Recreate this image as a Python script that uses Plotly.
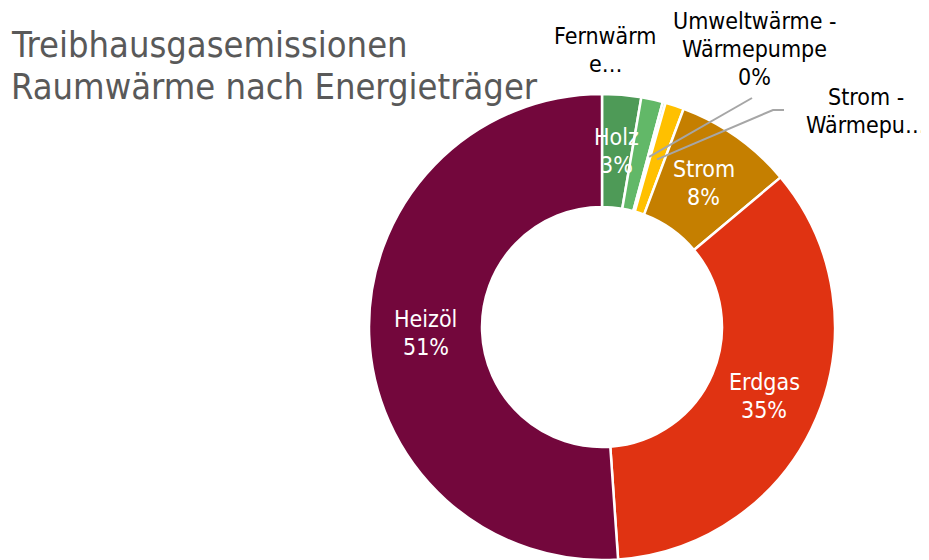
import math
import plotly.graph_objects as go

# ---------------- data ----------------
categories = ["Holz", "Fernwärme", "Umweltwärme - Wärmepumpe", "Strom - Wärmepumpe",
              "Strom", "Erdgas", "Heizöl"]
shares = [2.7, 1.5, 0.2, 1.3, 8.2, 35.0, 51.1]
label_lines = [["Holz"], ["Fernwärm", "e…"], ["Umweltwärme -", "Wärmepumpe"],
               ["Strom -", "Wärmepu…"], ["Strom"], ["Erdgas"], ["Heizöl"]]
show_pct = [True, False, True, False, True, True, True]
inside = [True, False, False, False, True, True, True]
colors = ["#4E9A57", "#62B868", "#A8D8A0", "#FFC000", "#C57F00", "#E03312", "#73073C"]
title_lines = ["Treibhausgasemissionen", "Raumwärme nach Energieträger"]

# ---------------- layout constants ----------------
OFF = 8                      # page body margin in the browser
W, H = 929 - OFF, 560 - OFF
CX, CY, R = 602, 327, 233    # in window pixels
HOLE = 0.515
FONT = "DejaVu Sans Condensed, DejaVu Sans, sans-serif"
LABEL_SIZE = 23
PITCH = 28
outside_pos = {1: (605, 36), 2: (754, 21), 3: (866, 97)}
leader_end = {2: [(752, 98)], 3: [(773, 110), (784, 110)]}


def px(x):
    return (x - OFF) / W


def py(y):
    return 1 - (y - OFF) / H


total = sum(shares)
cum = 0
mid_angles = []
for v in shares:
    mid_angles.append(360 * (cum + v / 2) / total)
    cum += v
r_mid = R * (1 + HOLE) / 2


def polar(angle, r):
    a = math.radians(angle)
    return CX + r * math.sin(a), CY - r * math.cos(a)


fig = go.Figure(go.Pie(
    labels=categories, values=shares, sort=False, direction="clockwise", rotation=0,
    hole=HOLE, textinfo="none", hoverinfo="label+percent",
    marker=dict(colors=colors, line=dict(color="white", width=2.5)),
    domain=dict(x=[px(CX - R), px(CX + R)], y=[max(0, py(CY + R)), py(CY - R)]),
    showlegend=False,
))

annotations = []
shapes = []
for i, cat in enumerate(categories):
    pct = f"{round(100 * shares[i] / total)}%"
    lines = list(label_lines[i]) + ([pct] if show_pct[i] else [])
    if inside[i]:
        x, y = polar(mid_angles[i], r_mid)
        color = "white"
    else:
        x, y0 = outside_pos[i]
        y = y0 + PITCH * (len(lines) - 1) / 2
        color = "black"
    n = len(lines)
    for k, t in enumerate(lines):
        ly = y + PITCH * (k - (n - 1) / 2)
        annotations.append(dict(
            x=px(x), y=py(ly), xref="paper", yref="paper", text=t, showarrow=False,
            xanchor="center", yanchor="middle",
            font=dict(family=FONT, size=LABEL_SIZE, color=color)))
    if i in leader_end:
        pts = [polar(mid_angles[i], r_mid)] + leader_end[i]
        path = "M " + " L ".join(f"{px(a):.5f},{py(b):.5f}" for a, b in pts)
        shapes.append(dict(type="path", path=path, xref="paper", yref="paper",
                           line=dict(color="#A6A6A6", width=2)))

for k, t in enumerate(title_lines):
    annotations.append(dict(
        x=px(9), y=py(45 + 42 * k), xref="paper", yref="paper", text=t, showarrow=False,
        xanchor="left", yanchor="middle",
        font=dict(family=FONT, size=36, color="#595959")))

fig.update_layout(
    width=W, height=H, margin=dict(l=0, r=0, t=0, b=0),
    paper_bgcolor="white", plot_bgcolor="white",
    annotations=annotations, shapes=shapes,
)

fig.write_html("out.html")
